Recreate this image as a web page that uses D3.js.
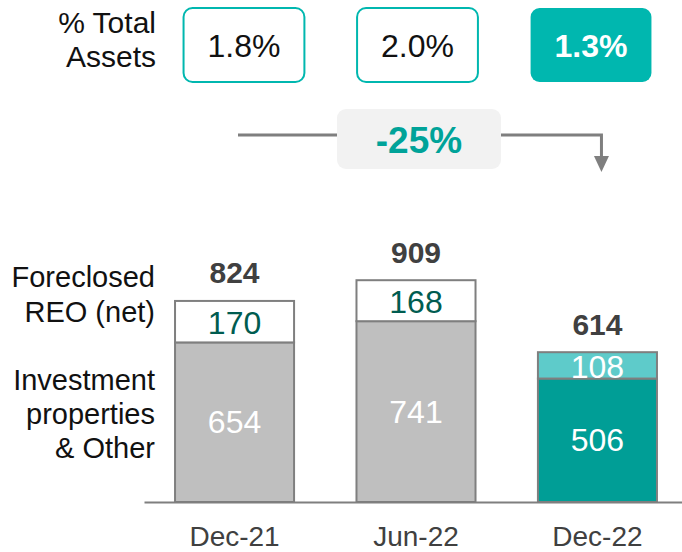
<!DOCTYPE html>
<html>
<head>
<meta charset="utf-8">
<script src="https://cdn.jsdelivr.net/npm/d3@7"></script>
<style>
  html, body { margin: 0; padding: 0; background: #fff; }
  svg { display: block; font-family: "Liberation Sans", Arial, Helvetica, sans-serif; }
</style>
</head>
<body>
<svg id="chart" width="682" height="552"></svg>
<script>
// Periods and stacked values (net book value)
const categories = ["Dec-21", "Jun-22", "Dec-22"];
const investmentOther = [654, 741, 506];
const foreclosedREO = [170, 168, 108];
const totals = [824, 909, 614];
const pctTotalAssets = ["1.8%", "2.0%", "1.3%"];
const changeLabel = "-25%";
const rowLabelsTop = ["% Total", "Assets"];
const rowLabelForeclosed = ["Foreclosed", "REO (net)"];
const rowLabelInvestment = ["Investment", "properties", "& Other"];

const svg = d3.select("#chart");
const font = "'Liberation Sans', Arial, Helvetica, sans-serif";

const x = d3.scaleBand().domain(categories).range([144, 688])
  .paddingInner(0.344).paddingOuter(0.171);
const y = d3.scaleLinear().domain([0, 1000]).range([502, 258]);

// Header row of % total assets boxes
const xh = d3.scaleBand().domain(categories).range([160, 675])
  .paddingInner(0.292).paddingOuter(0.13);

const teal = "#00b7af";
const header = svg.append("g");
categories.forEach((c, i) => {
  const last = i === categories.length - 1;
  header.append("rect")
    .attr("x", xh(c) + 1).attr("y", 8)
    .attr("width", xh.bandwidth() - 2).attr("height", 74)
    .attr("rx", 9)
    .attr("fill", last ? teal : "#fff")
    .attr("stroke", teal).attr("stroke-width", last ? 0 : 2);
  header.append("text")
    .attr("x", xh(c) + xh.bandwidth() / 2).attr("y", 46).attr("dy", "0.35em")
    .attr("text-anchor", "middle")
    .attr("font-size", 32).attr("font-weight", last ? "bold" : "normal")
    .attr("fill", last ? "#fff" : "#111")
    .text(pctTotalAssets[i]);
});

rowLabelsTop.forEach((t, i) => {
  svg.append("text").attr("x", 156).attr("y", 22 + i * 34).attr("dy", "0.35em")
    .attr("text-anchor", "end").attr("font-size", 30).attr("fill", "#111").text(t);
});

// Change arrow from first to last period
const arrowY = 135;
const xStart = 238, xEnd = x(categories[2]) + x.bandwidth() / 2 + 4;
const boxL = 337, boxR = 501;
svg.append("path")
  .attr("d", `M${xStart},${arrowY}H${boxL}M${boxR},${arrowY}H${xEnd}V158`)
  .attr("fill", "none").attr("stroke", "#7f7f7f").attr("stroke-width", 3);
svg.append("path")
  .attr("d", `M${xEnd - 7.5},156L${xEnd + 7.5},156L${xEnd},172Z`)
  .attr("fill", "#7f7f7f");
svg.append("rect")
  .attr("x", boxL).attr("y", 109).attr("width", boxR - boxL).attr("height", 60)
  .attr("rx", 9).attr("fill", "#f2f2f2");
svg.append("text")
  .attr("x", (boxL + boxR) / 2).attr("y", 140).attr("dy", "0.35em")
  .attr("text-anchor", "middle").attr("font-size", 37).attr("font-weight", "bold")
  .attr("fill", "#00a399").text(changeLabel);

// Stacked bars
const bars = svg.append("g");
categories.forEach((c, i) => {
  const last = i === categories.length - 1;
  const x0 = x(c), w = x.bandwidth(), cx = x0 + w / 2;
  const base = investmentOther[i], top = base + foreclosedREO[i];
  bars.append("rect")
    .attr("x", x0).attr("y", y(base)).attr("width", w).attr("height", y(0) - y(base))
    .attr("fill", last ? "#009e96" : "#bfbfbf")
    .attr("stroke", "#7f7f7f").attr("stroke-width", 2);
  bars.append("rect")
    .attr("x", x0).attr("y", y(top)).attr("width", w).attr("height", y(base) - y(top))
    .attr("fill", last ? "#5ecbca" : "#fff")
    .attr("stroke", "#7f7f7f").attr("stroke-width", 2);
  bars.append("text")
    .attr("x", cx).attr("y", (y(0) + y(base)) / 2).attr("dy", "0.35em")
    .attr("text-anchor", "middle").attr("font-size", 32).attr("fill", "#fff")
    .text(investmentOther[i]);
  bars.append("text")
    .attr("x", cx).attr("y", (y(base) + y(top)) / 2 + 1).attr("dy", "0.35em")
    .attr("text-anchor", "middle").attr("font-size", 32)
    .attr("fill", last ? "#fff" : "#005c50")
    .text(foreclosedREO[i]);
  bars.append("text")
    .attr("x", cx).attr("y", y(totals[i]) - 28).attr("dy", "0.35em")
    .attr("text-anchor", "middle").attr("font-size", 30).attr("font-weight", "bold")
    .attr("fill", "#404040").text(totals[i]);
});

// Baseline and category axis
const axis = svg.append("g").attr("transform", "translate(0,502)")
  .call(d3.axisBottom(x).tickSize(0).tickPadding(24));
axis.select(".domain").attr("stroke", "#7f7f7f").attr("stroke-width", 2);
axis.selectAll("text").attr("font-size", 28).attr("fill", "#404040")
  .attr("font-family", font);

// Series labels on the left
rowLabelForeclosed.forEach((t, i) => {
  svg.append("text").attr("x", 155).attr("y", 277 + i * 35).attr("dy", "0.35em")
    .attr("text-anchor", "end").attr("font-size", 29).attr("fill", "#111").text(t);
});
rowLabelInvestment.forEach((t, i) => {
  svg.append("text").attr("x", 155).attr("y", 380 + i * 34).attr("dy", "0.35em")
    .attr("text-anchor", "end").attr("font-size", 29).attr("fill", "#111").text(t);
});
</script>
</body>
</html>
